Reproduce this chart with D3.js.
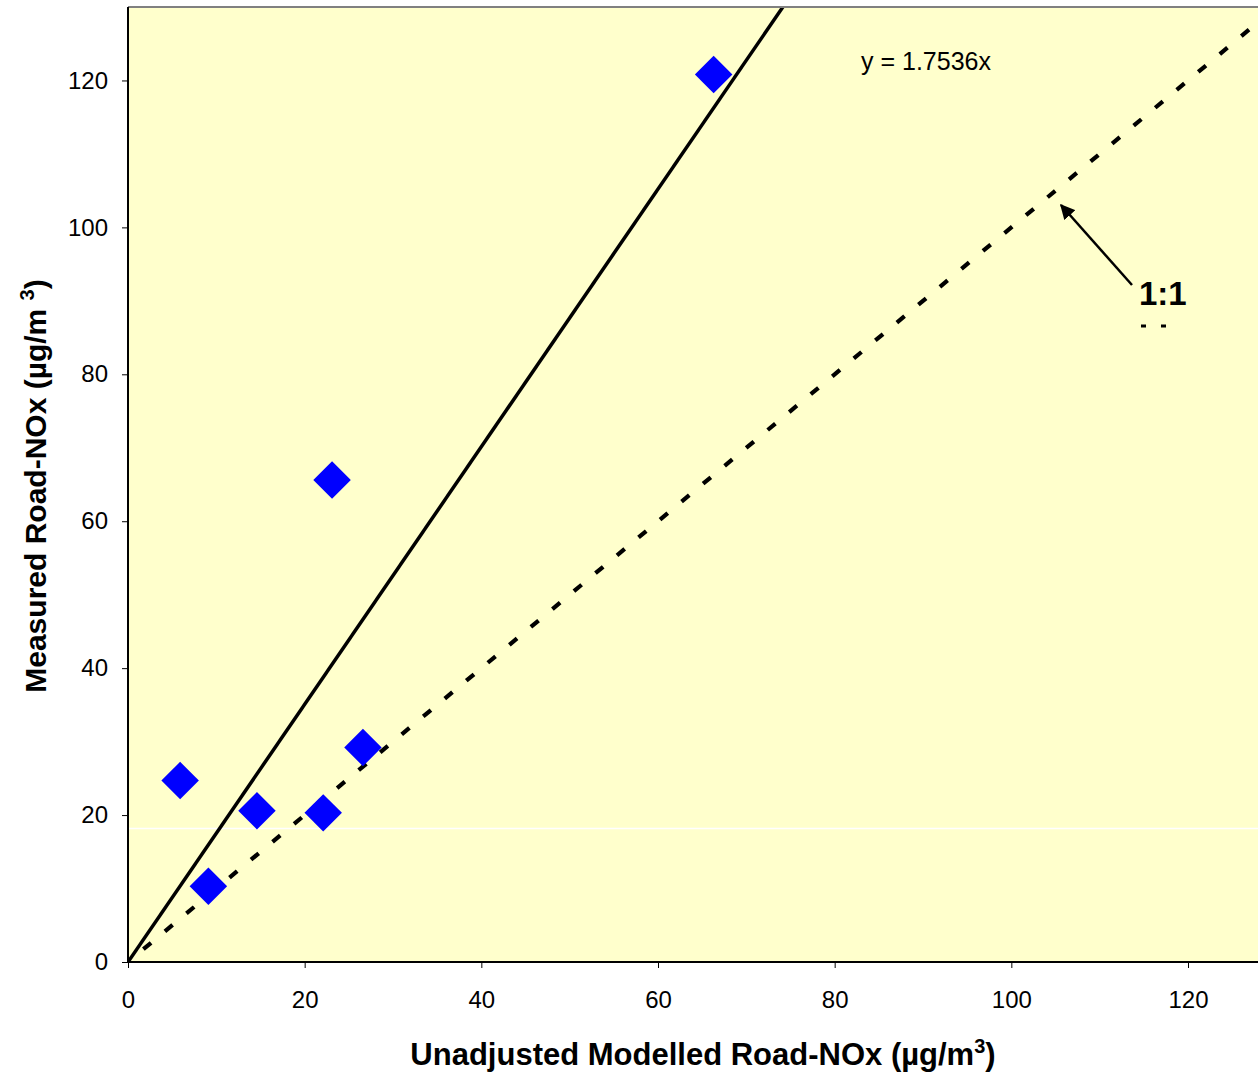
<!DOCTYPE html>
<html>
<head>
<meta charset="utf-8">
<script src="https://cdn.jsdelivr.net/npm/d3@7"></script>
<style>
  html, body { margin: 0; padding: 0; background: #ffffff; }
  svg { display: block; font-family: "Liberation Sans", Arial, sans-serif; }
</style>
</head>
<body>
<svg id="chart" width="1258" height="1074"></svg>
<script>
// ---- data ----
const modelled = [5.9, 9.1, 14.6, 22.1, 23.1, 26.6, 66.3];
const measured = [24.7, 10.3, 20.6, 20.3, 65.6, 29.2, 120.8];
const slope = 1.7536;
const xTicks = [0, 20, 40, 60, 80, 100, 120];
const yTicks = [0, 20, 40, 60, 80, 100, 120];
const equationLabel = "y = 1.7536x";
const oneToOneLabel = "1:1";
const xTitle = "Unadjusted Modelled Road-NOx (µg/m";
const yTitle = "Measured Road-NOx (µg/m ";

(function () {
const svg = d3.select("#chart");
const W = 1258, H = 1074;
const pLeft = 128, pTop = 7, pBottom = 962;

const x = d3.scaleLinear().domain([0, 130]).range([pLeft, pLeft + 130 * (1060 / 120)]);
const y = d3.scaleLinear().domain([0, 130]).range([pBottom, pTop]);

const defs = svg.append("defs");
defs.append("clipPath").attr("id", "plotclip")
  .append("rect").attr("x", pLeft).attr("y", pTop).attr("width", W - pLeft).attr("height", pBottom - pTop);

// background
svg.append("rect").attr("x", pLeft).attr("y", pTop).attr("width", W - pLeft).attr("height", pBottom - pTop)
  .attr("fill", "#FFFFCC");

// white artifact line
svg.append("line").attr("x1", pLeft).attr("x2", W).attr("y1", 828.5).attr("y2", 828.5)
  .attr("stroke", "#ffffff").attr("stroke-width", 1.5);

const plot = svg.append("g").attr("clip-path", "url(#plotclip)");

// 1:1 line (dashed)
plot.append("line")
  .attr("x1", x(0)).attr("y1", y(0)).attr("x2", x(130)).attr("y2", y(130))
  .attr("stroke", "#000").attr("stroke-width", 4.2)
  .attr("stroke-dasharray", "10,18").attr("stroke-dashoffset", -20);

// regression line
plot.append("line")
  .attr("x1", x(0)).attr("y1", y(0)).attr("x2", x(130 / slope)).attr("y2", y(130))
  .attr("stroke", "#000").attr("stroke-width", 3.5);

// diamonds
const sym = d3.symbol().type(d3.symbolSquare).size(26.5 * 26.5);
plot.selectAll("path.pt").data(modelled.map((m, i) => [m, measured[i]]))
  .enter().append("path").attr("class", "pt")
  .attr("d", sym)
  .attr("transform", d => `translate(${x(d[0])},${y(d[1])}) rotate(45)`)
  .attr("fill", "#0000FF");

// top border
svg.append("line").attr("x1", pLeft).attr("x2", W).attr("y1", pTop).attr("y2", pTop)
  .attr("stroke", "#808080").attr("stroke-width", 2);

// axes
const xAxis = d3.axisBottom(x).tickValues(xTicks).tickSize(6).tickPadding(23).tickFormat(d3.format("d"));
const gx = svg.append("g").attr("transform", `translate(0,${pBottom})`).call(xAxis);
gx.select(".domain").remove();
gx.append("line").attr("x1", pLeft).attr("x2", W).attr("y1", 0).attr("y2", 0).attr("stroke", "#000").attr("stroke-width", 2);
gx.selectAll(".tick line").attr("stroke", "#000");
gx.selectAll(".tick text").attr("font-size", 24).attr("fill", "#000").attr("font-family", "Liberation Sans, Arial, sans-serif");

const yAxis = d3.axisLeft(y).tickValues(yTicks).tickSize(6).tickPadding(14).tickFormat(d3.format("d"));
const gy = svg.append("g").attr("transform", `translate(${pLeft},0)`).call(yAxis);
gy.select(".domain").remove();
gy.append("line").attr("x1", 0).attr("x2", 0).attr("y1", pTop).attr("y2", pBottom).attr("stroke", "#000").attr("stroke-width", 2);
gy.selectAll(".tick line").attr("stroke", "#000");
gy.selectAll(".tick text").attr("font-size", 24).attr("fill", "#000").attr("font-family", "Liberation Sans, Arial, sans-serif");

// equation label
svg.append("text").attr("x", 861).attr("y", 70).attr("font-size", 25).attr("fill", "#000")
  .text(equationLabel);

// arrow
defs.append("marker").attr("id", "arrow")
  .attr("viewBox", "0 0 10 10").attr("refX", 9).attr("refY", 5)
  .attr("markerWidth", 6).attr("markerHeight", 6).attr("orient", "auto")
  .append("path").attr("d", "M0,0 L10,5 L0,10 Z").attr("fill", "#000");
svg.append("line").attr("x1", 1132).attr("y1", 285).attr("x2", 1061).attr("y2", 205)
  .attr("stroke", "#000").attr("stroke-width", 2.5).attr("marker-end", "url(#arrow)");

// 1:1 label
svg.append("text").attr("x", 1139).attr("y", 305).attr("font-size", 33).attr("font-weight", "bold")
  .attr("fill", "#000").text(oneToOneLabel);
svg.append("line").attr("x1", 1141).attr("x2", 1170).attr("y1", 326).attr("y2", 326)
  .attr("stroke", "#000").attr("stroke-width", 3).attr("stroke-dasharray", "5,15");

// x title
const xt = svg.append("text").attr("x", 703).attr("y", 1065).attr("text-anchor", "middle")
  .attr("font-size", 31).attr("font-weight", "bold").attr("fill", "#000");
xt.append("tspan").text(xTitle);
xt.append("tspan").attr("font-size", 20).attr("dy", -12).text("3");
xt.append("tspan").attr("dy", 12).text(")");

// y title
const yt = svg.append("text").attr("transform", `translate(46,486) rotate(-90)`).attr("text-anchor", "middle")
  .attr("font-size", 30).attr("font-weight", "bold").attr("fill", "#000");
yt.append("tspan").text(yTitle);
yt.append("tspan").attr("font-size", 20).attr("dy", -12).text("3");
yt.append("tspan").attr("dy", 12).text(")");
})();
</script>
</body>
</html>
